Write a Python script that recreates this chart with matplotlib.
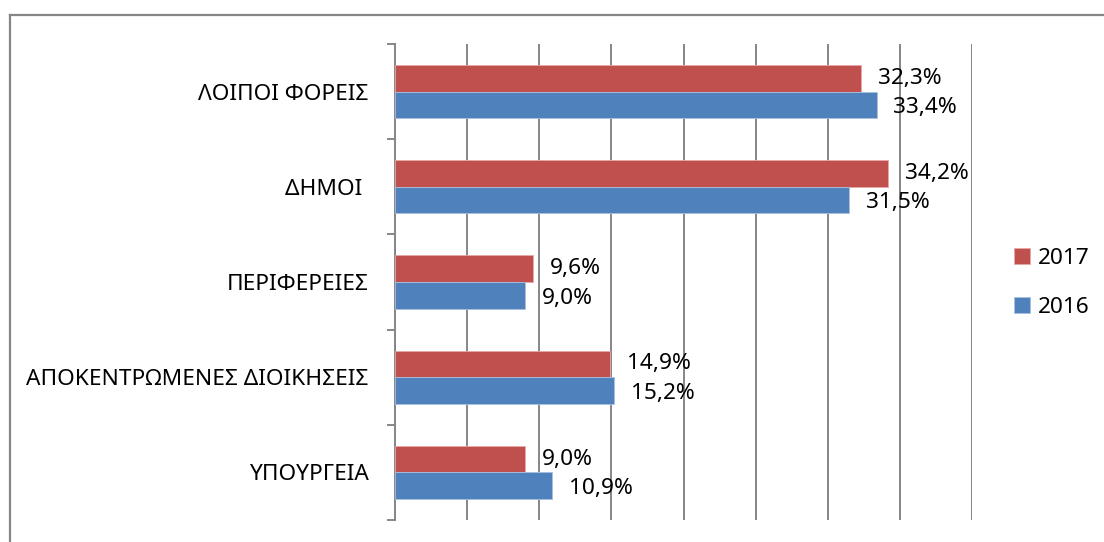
import numpy as np
import matplotlib.pyplot as plt
from matplotlib.lines import Line2D

plt.rcParams['font.family'] = ['Noto Sans', 'DejaVu Sans']

categories = ['ΥΠΟΥΡΓΕΙΑ', 'ΑΠΟΚΕΝΤΡΩΜΕΝΕΣ ΔΙΟΙΚΗΣΕΙΣ', 'ΠΕΡΙΦΕΡΕΙΕΣ', 'ΔΗΜΟΙ ', 'ΛΟΙΠΟΙ ΦΟΡΕΙΣ']
vals_2017 = [9.0, 14.9, 9.6, 34.2, 32.3]
vals_2016 = [10.9, 15.2, 9.0, 31.5, 33.4]
series_names = ['2017', '2016']

red = '#C0504D'
blue = '#4F81BD'
grey = '#868686'
fs = 16.3

fig = plt.figure(figsize=(11.04, 5.42), dpi=100)
ax = fig.add_axes([395 / 1104, 1 - 520 / 542, (972 - 395) / 1104, (520 - 44) / 542])

y = np.arange(len(categories))
h = 0.28
b17 = ax.barh(y + h / 2, vals_2017, height=h, color=red, edgecolor='#e8a9a7', linewidth=0.6, label=series_names[0], zorder=3)
b16 = ax.barh(y - h / 2, vals_2016, height=h, color=blue, edgecolor='#a9c0de', linewidth=0.6, label=series_names[1], zorder=3)

for bars, vals, dy in ((b17, vals_2017, 0), (b16, vals_2016, -2)):
    for bar, v in zip(bars, vals):
        ax.annotate(('%.1f%%' % v).replace('.', ','),
                    (v, bar.get_y() + bar.get_height() / 2),
                    xytext=(12, dy), textcoords='offset points',
                    ha='left', va='center', fontsize=fs, zorder=4)

ax.set_xlim(0, 40)
ax.set_ylim(-0.5, len(categories) - 0.5)
ax.set_xticks(np.arange(0, 41, 5))
ax.tick_params(axis='x', length=0, labelbottom=False)
ax.grid(axis='x', color=grey, linewidth=1.4, zorder=0)

ax.set_yticks(y)
ax.set_yticklabels(categories, fontsize=fs)
ax.tick_params(axis='y', which='major', length=0, pad=19)
ax.set_yticks(np.arange(-0.5, len(categories), 1), minor=True)
ax.tick_params(axis='y', which='minor', length=6, width=1.4, color=grey, direction='out')

for s in ('top', 'right', 'bottom'):
    ax.spines[s].set_visible(False)
ax.spines['left'].set_color(grey)
ax.spines['left'].set_linewidth(1.4)

handles = [b17, b16]
leg = fig.legend(handles, series_names, loc='center left',
                 bbox_to_anchor=(1014 / 1104, 1 - 283 / 542),
                 borderaxespad=0, borderpad=0,
                 frameon=False, fontsize=fs, handlelength=0.72, handleheight=0.72,
                 handletextpad=0.35, labelspacing=1.25)

fig.add_artist(Line2D([10 / 1104, 1.0], [1 - 15 / 542, 1 - 15 / 542], color=grey, linewidth=1.6))
fig.add_artist(Line2D([10 / 1104, 10 / 1104], [0, 1 - 15 / 542], color=grey, linewidth=1.6))

fig.savefig('out.png', dpi=100)
